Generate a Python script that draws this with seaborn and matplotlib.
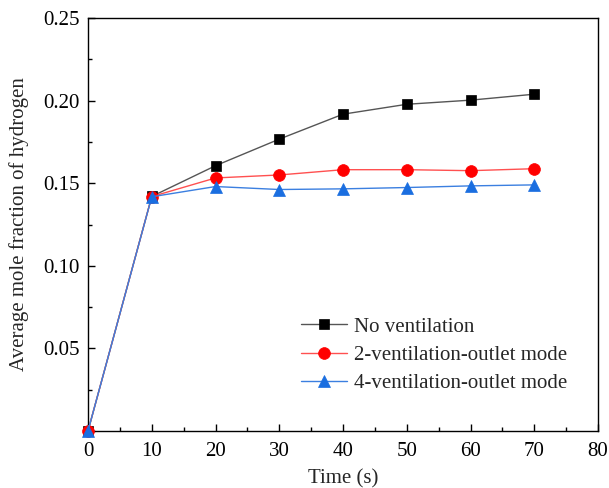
import numpy as np
import pandas as pd
import matplotlib
matplotlib.use("Agg")
import matplotlib.pyplot as plt
import seaborn as sns
from matplotlib.ticker import MultipleLocator, FuncFormatter

time_s = [0, 10, 20, 30, 40, 50, 60, 70]
no_vent = [0.0, 0.142, 0.1606, 0.1767, 0.1918, 0.1978, 0.2003, 0.2039]
two_outlet = [0.0, 0.1419, 0.1532, 0.1550, 0.1582, 0.1582, 0.1576, 0.1588]
four_outlet = [0.0, 0.1418, 0.1480, 0.1462, 0.1466, 0.1474, 0.1484, 0.1490]
series_names = ["No ventilation", "2-ventilation-outlet mode", "4-ventilation-outlet mode"]

sns.set_style("ticks")
plt.rcParams["font.family"] = ["Liberation Serif", "DejaVu Serif"]

fig = plt.figure(figsize=(6.09, 4.88), dpi=100)
ax = fig.add_axes([0.1445, 0.1168, 0.982 - 0.1445, 0.963 - 0.1168])

styles = [
    dict(line="#555555", mk="black", marker="s", ms=7.5),
    dict(line="#ff5050", mk="#ff0000", marker="o", ms=8.5),
    dict(line="#3b7fe0", mk="#1a6ee0", marker="^", ms=8.5),
]
for name, vals, st in zip(series_names, [no_vent, two_outlet, four_outlet], styles):
    df = pd.DataFrame({"t": time_s, "v": vals})
    sns.lineplot(data=df, x="t", y="v", ax=ax, color=st["line"], lw=1.0,
                 marker=st["marker"], markersize=st["ms"], markerfacecolor=st["mk"],
                 markeredgecolor=st["mk"], markeredgewidth=0.5, label=name,
                 clip_on=False, zorder=3)

ax.set_xlim(0, 80)
ax.set_ylim(0, 0.25)
ax.xaxis.set_major_locator(MultipleLocator(10))
ax.xaxis.set_minor_locator(MultipleLocator(5))
ax.yaxis.set_major_locator(MultipleLocator(0.05))
ax.yaxis.set_minor_locator(MultipleLocator(0.025))
ax.yaxis.set_major_formatter(FuncFormatter(lambda v, p: "" if abs(v) < 1e-9 else f"{v:.2f}"))
ax.tick_params(which="both", direction="in", top=False, right=False, labelsize=15,
               colors="black", pad=6)
ax.tick_params(axis="x", which="major", pad=8)
ax.tick_params(which="major", length=5, width=1)
ax.tick_params(which="minor", length=3, width=1)
for s in ax.spines.values():
    s.set_linewidth(1.0)
    s.set_color("black")

ax.set_xlabel("Time (s)", fontsize=15, labelpad=6)
ax.set_ylabel("Average mole fraction of hydrogen", fontsize=15, labelpad=10)

leg = ax.legend(loc="lower left", bbox_to_anchor=(0.389, 0.056), frameon=False,
                fontsize=15, handlelength=2.2, handletextpad=0.35, labelspacing=0.42,
                borderpad=0.2)

fig.savefig("out.png", dpi=100)
